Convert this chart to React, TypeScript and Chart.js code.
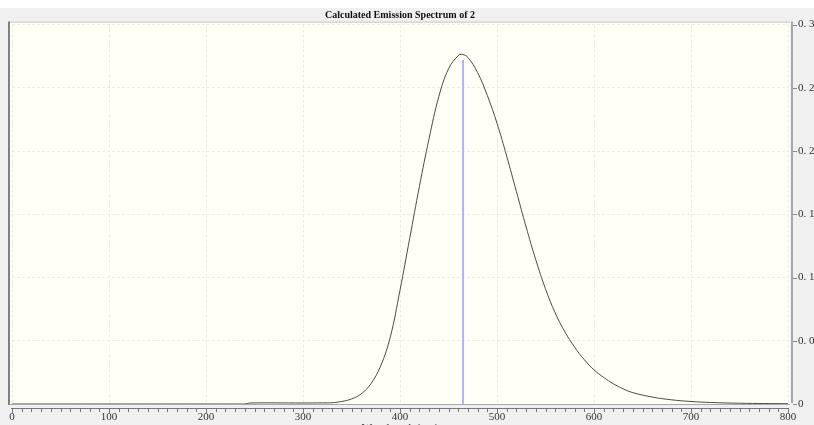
import React, { useEffect, useRef } from "react";
import { Chart, registerables } from "chart.js";

Chart.register(...registerables);

const chartTitle = "Calculated Emission Spectrum of 2";
const xAxisTitle = "Wavelength (nm)";

const wavelengths = [
  0, 240, 245, 300, 320, 330, 340, 350, 360, 370, 380, 390, 400, 410, 420, 430,
  440, 450, 460, 464, 470, 480, 490, 500, 510, 520, 530, 540, 550, 560, 570,
  580, 590, 600, 610, 620, 630, 640, 660, 680, 700, 720, 750, 800,
];
const intensities = [
  0, 0, 0.0008, 0.0008, 0.0009, 0.001, 0.002, 0.004, 0.008, 0.016, 0.03, 0.053,
  0.09, 0.131, 0.172, 0.21, 0.243, 0.265, 0.2755, 0.2765, 0.274, 0.262, 0.244,
  0.222, 0.196, 0.168, 0.14, 0.114, 0.091, 0.072, 0.057, 0.045, 0.035, 0.027,
  0.021, 0.016, 0.012, 0.009, 0.0055, 0.0033, 0.002, 0.0012, 0.0006, 0.0002,
];

const peakWavelength = [465, 465];
const peakBar = [0, 0.272];

const xTickStep = 100;
const xMinorStep = 10;
const yTickStep = 0.05;

const fmtY = (v: number) => {
  const r = Math.round(v * 100) / 100;
  const s = String(r);
  return s.replace(".", ". ");
};

const framePlugin = {
  id: "framePlugin",
  beforeDraw(chart: any) {
    const { ctx, chartArea: ca, width, height } = chart;
    ctx.save();
    ctx.fillStyle = "#f0f0f0";
    ctx.fillRect(0, 0, width, height);
    ctx.fillStyle = "#fffff6";
    ctx.fillRect(ca.left - 2, ca.top - 2, ca.right - ca.left + 4, ca.bottom - ca.top + 2);
    ctx.restore();
  },
  afterDraw(chart: any) {
    const { ctx, chartArea: ca } = chart;
    const xs = chart.scales.x;
    const ys = chart.scales.y;
    ctx.save();
    ctx.strokeStyle = "#c8c8c8";
    ctx.lineWidth = 1;
    ctx.beginPath();
    ctx.moveTo(ca.left - 3, ca.top - 2.5);
    ctx.lineTo(ca.right + 2, ca.top - 2.5);
    ctx.stroke();
    ctx.strokeStyle = "#808080";
    ctx.lineWidth = 2;
    ctx.beginPath();
    ctx.moveTo(ca.left - 3, ca.top - 3);
    ctx.lineTo(ca.left - 3, ca.bottom + 1);
    ctx.stroke();
    ctx.strokeStyle = "#a8a8a8";
    ctx.lineWidth = 1;
    ctx.beginPath();
    ctx.moveTo(ca.left - 2, ca.bottom + 0.5);
    ctx.lineTo(ca.right + 2, ca.bottom + 0.5);
    ctx.stroke();
    ctx.strokeStyle = "#a8a8a8";
    ctx.lineWidth = 2;
    ctx.beginPath();
    ctx.moveTo(ca.right + 4, ca.top - 3);
    ctx.lineTo(ca.right + 4, ca.bottom - 1);
    ctx.stroke();
    ctx.strokeStyle = "#888";
    ctx.lineWidth = 1;
    ys.ticks.forEach((t: any) => {
      const py = Math.round(ys.getPixelForValue(t.value)) + 0.5;
      ctx.beginPath();
      ctx.moveTo(ca.right + 5, py);
      ctx.lineTo(ca.right + 9, py);
      ctx.stroke();
    });
    const ay = ca.bottom + 4.5;
    ctx.strokeStyle = "#777";
    ctx.beginPath();
    ctx.moveTo(ca.left - 1, ay);
    ctx.lineTo(ca.right + 1, ay);
    ctx.stroke();
    for (let v = xs.min; v <= xs.max + 0.001; v += xMinorStep) {
      const px = Math.round(xs.getPixelForValue(v)) + 0.5;
      const major = Math.abs(v % xTickStep) < 0.001;
      ctx.beginPath();
      ctx.moveTo(px, ay);
      ctx.lineTo(px, ay + (major ? 5 : 3.5));
      ctx.stroke();
    }
    ctx.restore();
  },
};

export default function App() {
  const ref = useRef<HTMLCanvasElement | null>(null);
  useEffect(() => {
    document.body.style.margin = "0";
    const canvas = ref.current!;
    const spectrum = wavelengths.map((x, i) => ({ x, y: intensities[i] }));
    const bar = peakWavelength.map((x, i) => ({ x, y: peakBar[i] }));
    const chart = new Chart(canvas, {
      type: "scatter",
      data: {
        datasets: [
          {
            data: bar,
            showLine: true,
            borderColor: "#b0b4f6",
            borderWidth: 2,
            pointRadius: 0,
          },
          {
            data: spectrum,
            showLine: true,
            borderColor: "#4a4a4a",
            borderWidth: 1,
            pointRadius: 0,
            tension: 0.4,
          },
        ],
      },
      options: {
        responsive: false,
        animation: false,
        layout: { padding: { left: 12, right: 0, top: 0, bottom: 0 } },
        plugins: {
          legend: { display: false },
          tooltip: { enabled: false },
          title: {
            display: true,
            text: chartTitle,
            fullSize: false,
            color: "#111",
            font: { family: "'Liberation Serif', serif", size: 10, weight: "bold" },
            padding: { top: 0.5, bottom: 3.5 },
          },
        },
        scales: {
          x: {
            type: "linear",
            min: 0,
            max: 800,
            ticks: {
              stepSize: xTickStep,
              color: "#333",
              padding: 7,
              maxRotation: 0,
              font: { family: "'Liberation Serif', serif", size: 11 },
            },
            grid: {
              drawTicks: false,
              color: "#ececE4",
              tickLength: 0,
            },
            border: { display: false, dash: [3, 2] },
            title: {
              display: true,
              text: xAxisTitle,
              color: "#222",
              font: { family: "'Liberation Serif', serif", size: 11 },
              padding: { top: 0, bottom: 5.4 },
            },
            afterFit: (s: any) => {
              s.height = 36;
            },
          },
          y: {
            type: "linear",
            position: "right",
            min: 0,
            max: 0.3,
            ticks: {
              stepSize: yTickStep,
              color: "#333",
              padding: 10,
              callback: (v: any) => fmtY(Number(v)),
              font: { family: "'Liberation Serif', serif", size: 11 },
            },
            grid: {
              drawTicks: false,
              color: "#ececE4",
              tickLength: 0,
            },
            border: { display: false, dash: [3, 2] },
            afterFit: (s: any) => {
              s.width = 52;
            },
          },
        },
      },
      plugins: [framePlugin],
    } as any);
    return () => chart.destroy();
  }, []);
  return (
    <div
      style={{
        position: "absolute",
        left: 0,
        top: 0,
        width: 814,
        height: 425,
        overflow: "hidden",
        background: "#ffffff",
      }}
    >
      <canvas
        ref={ref}
        width={840}
        height={432}
        style={{ position: "absolute", left: 0, top: 8, width: 840, height: 432 }}
      />
    </div>
  );
}
